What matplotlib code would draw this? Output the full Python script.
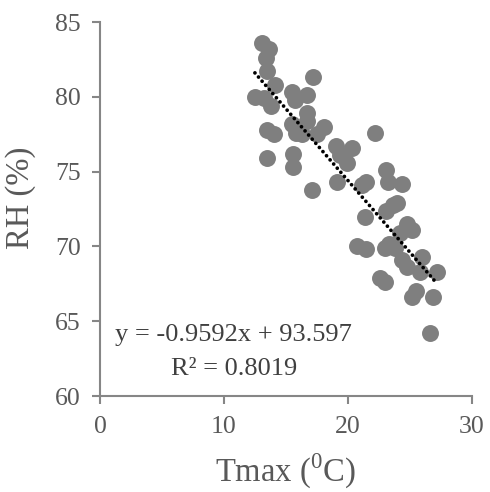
import numpy as np
import matplotlib
matplotlib.use('Agg')
import matplotlib.pyplot as plt

plt.rcParams['font.family'] = 'Liberation Serif'
plt.rcParams['mathtext.fontset'] = 'custom'
plt.rcParams['mathtext.rm'] = 'Liberation Serif'

# Tmax (deg C) and RH (%)
tmax = [13.1, 13.6, 13.4, 13.5, 14.1, 12.5, 13.2, 13.8, 15.5, 15.7,
        16.7, 17.2, 16.7, 16.7, 18.1, 15.5, 15.8, 16.3, 17.5, 13.5,
        14.0, 13.5, 15.6, 15.6, 17.1, 19.0, 19.4, 19.9, 20.3, 19.1,
        22.2, 23.1, 23.2, 24.4, 21.1, 21.5, 21.4, 24.0, 23.6, 23.1,
        24.8, 25.2, 24.2, 23.3, 23.8, 23.0, 20.7, 21.5, 26.0, 24.4,
        24.8, 25.8, 27.2, 22.6, 23.0, 25.5, 25.2, 26.9, 26.6]
rh = [83.6, 83.2, 82.6, 81.7, 80.8, 80.0, 79.9, 79.4, 80.3, 79.8,
      80.1, 81.3, 78.9, 78.4, 78.0, 78.2, 77.6, 77.5, 77.5, 77.8,
      77.5, 75.9, 76.2, 75.3, 73.8, 76.7, 76.1, 75.6, 76.6, 74.3,
      77.6, 75.1, 74.3, 74.2, 74.1, 74.3, 72.0, 72.9, 72.8, 72.4,
      71.5, 71.1, 70.9, 70.2, 69.9, 69.9, 70.0, 69.8, 69.3, 69.1,
      68.6, 68.3, 68.3, 67.9, 67.6, 67.0, 66.6, 66.6, 64.2]

slope = -0.9592
intercept = 93.597
r2 = 0.8019

fig = plt.figure(figsize=(4.9, 4.92), dpi=100)
ax = fig.add_axes([0.204, 0.195, 0.759, 0.76])

ax.plot(tmax, rh, 'o', color='#7f7f7f', markersize=12.2, markeredgewidth=0)

xt = np.array([min(tmax), max(tmax)])
ax.plot(xt, slope * xt + intercept, color='black', linewidth=2.7,
        dashes=(0.01, 1.45), dash_capstyle='round')

ax.set_xlim(0, 30)
ax.set_ylim(60, 85)
ax.set_xticks([0, 10, 20, 30])
ax.set_yticks([60, 65, 70, 75, 80, 85])

for s in ['top', 'right']:
    ax.spines[s].set_visible(False)
for s in ['left', 'bottom']:
    ax.spines[s].set_color('#868686')
    ax.spines[s].set_linewidth(1.5)
ax.tick_params(direction='out', length=6, width=1.5, color='#868686',
               labelsize=18.5, labelcolor='#595959', pad=8)

ax.set_xlabel('Tmax ($^{0}$C)', fontsize=23.5, color='#595959', labelpad=10)
ax.set_ylabel('RH (%)', fontsize=23.5, color='#595959')
ax.yaxis.set_label_coords(-0.172, 0.53)

ax.text(10.8, 64.1, 'y = {}x + {}'.format(slope, intercept), fontsize=19,
        color='#404040', ha='center', va='center')
ax.text(10.8, 61.8, 'R² = {}'.format(r2), fontsize=19,
        color='#404040', ha='center', va='center')

fig.savefig('out.png', dpi=100)
